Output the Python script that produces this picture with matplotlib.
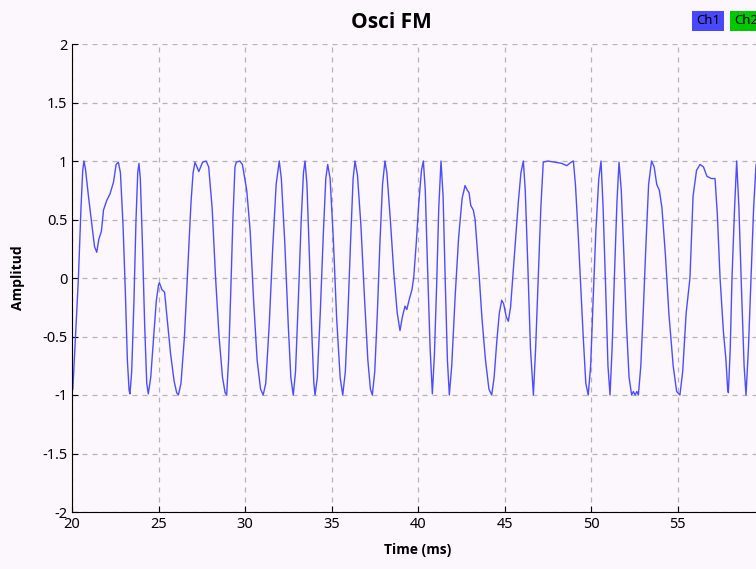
import matplotlib
matplotlib.use("Agg")
import matplotlib.pyplot as plt
from matplotlib.ticker import FuncFormatter

# samples (time in ms, amplitude)
t_ms = [
    20.05, 20.2, 20.37, 20.52, 20.62, 20.69,
    20.78, 20.95, 21.15, 21.3, 21.43,
    21.55, 21.7, 21.82, 22.0, 22.2, 22.4, 22.55, 22.68,
    22.8, 22.95, 23.08, 23.2, 23.3, 23.35,
    23.45, 23.58, 23.7, 23.8, 23.87,
    23.95, 24.07, 24.2, 24.32, 24.41,
    24.55, 24.7, 24.87, 25.0, 25.05, 25.2, 25.35,
    25.5, 25.7, 25.9, 26.05, 26.15,
    26.3, 26.5, 26.7, 26.88, 27.0, 27.11, 27.33, 27.55, 27.75, 27.9,
    28.1, 28.3, 28.5, 28.7, 28.85, 28.94,
    29.05, 29.18, 29.3, 29.42, 29.5, 29.7, 29.85,
    30.1, 30.3, 30.5, 30.7, 30.9, 31.05,
    31.2, 31.4, 31.6, 31.8, 31.98,
    32.1, 32.3, 32.5, 32.65, 32.79,
    32.92, 33.08, 33.25, 33.38, 33.47,
    33.58, 33.72, 33.87, 33.98, 34.05,
    34.18, 34.35, 34.52, 34.67, 34.78,
    34.92, 35.1, 35.3, 35.5, 35.65,
    35.8, 35.95, 36.1, 36.25, 36.36,
    36.5, 36.7, 36.9, 37.1, 37.25, 37.36,
    37.5, 37.65, 37.8, 37.95, 38.09,
    38.2, 38.4, 38.6, 38.8, 38.96, 39.1, 39.25, 39.35, 39.5, 39.65, 39.75,
    39.9, 40.05, 40.2, 40.31,
    40.42, 40.55, 40.7, 40.83,
    40.95, 41.08, 41.2, 41.33,
    41.45, 41.57, 41.7, 41.81,
    41.95, 42.15, 42.35, 42.55, 42.72, 42.85, 42.95, 43.05, 43.2, 43.3,
    43.5, 43.7, 43.9, 44.1, 44.26,
    44.4, 44.55, 44.7, 44.84, 44.95, 45.1, 45.22, 45.35,
    45.5, 45.65, 45.8, 45.95, 46.09,
    46.2, 46.35, 46.5, 46.67,
    46.8, 46.95, 47.1, 47.24, 47.5, 47.9, 48.3, 48.6, 48.85, 48.98,
    49.1, 49.25, 49.4, 49.55, 49.7, 49.84,
    49.98, 50.12, 50.28, 50.45, 50.58,
    50.7, 50.85, 50.98, 51.1,
    51.22, 51.35, 51.5, 51.62,
    51.75, 51.9, 52.05, 52.2, 52.35, 52.45, 52.55, 52.65, 52.74,
    52.88, 53.03, 53.18, 53.33, 53.5,
    53.65, 53.8, 53.95, 54.1, 54.3, 54.5, 54.75, 54.95, 55.14,
    55.3, 55.5, 55.72, 55.9, 56.1, 56.3, 56.5, 56.7, 56.95,
    57.17, 57.3, 57.46, 57.65, 57.8, 57.9, 57.94,
    58.05, 58.15, 58.3, 58.42,
    58.55, 58.7, 58.85, 58.96,
    59.1, 59.25, 59.4, 59.54, 59.7,
]
ch1 = [
    -0.95, -0.5, 0.0, 0.6, 0.92, 1.0,
    0.93, 0.7, 0.45, 0.27, 0.22,
    0.33, 0.4, 0.58, 0.66, 0.72, 0.82, 0.97, 0.99,
    0.9, 0.45, -0.1, -0.7, -0.96, -0.99,
    -0.8, -0.2, 0.5, 0.9, 0.98,
    0.85, 0.3, -0.4, -0.9, -0.99,
    -0.85, -0.55, -0.2, -0.06, -0.04, -0.1, -0.12,
    -0.35, -0.65, -0.88, -0.98, -1.0,
    -0.9, -0.5, 0.1, 0.65, 0.9, 0.99, 0.91, 0.99, 1.0, 0.95,
    0.6, 0.0, -0.5, -0.85, -0.98, -1.0,
    -0.7, -0.1, 0.5, 0.95, 0.99, 1.0, 0.97,
    0.75, 0.4, -0.2, -0.7, -0.95, -1.0,
    -0.9, -0.4, 0.25, 0.8, 1.0,
    0.85, 0.3, -0.4, -0.85, -1.0,
    -0.8, -0.2, 0.5, 0.9, 1.0,
    0.8, 0.2, -0.5, -0.9, -1.0,
    -0.85, -0.3, 0.35, 0.85, 0.97,
    0.85, 0.35, -0.35, -0.85, -1.0,
    -0.8, -0.3, 0.3, 0.85, 1.0,
    0.88, 0.45, -0.15, -0.7, -0.95, -1.0,
    -0.8, -0.3, 0.3, 0.8, 1.0,
    0.9, 0.5, 0.05, -0.3, -0.45, -0.33, -0.24, -0.27, -0.18, -0.1, 0.0,
    0.3, 0.65, 0.92, 1.0,
    0.75, 0.1, -0.6, -0.99,
    -0.65, -0.05, 0.6, 1.0,
    0.7, 0.0, -0.7, -1.0,
    -0.75, -0.15, 0.35, 0.68, 0.79, 0.75, 0.73, 0.62, 0.58, 0.5,
    0.1, -0.35, -0.7, -0.95, -1.0,
    -0.85, -0.55, -0.3, -0.19, -0.22, -0.33, -0.37, -0.25,
    0.05, 0.35, 0.65, 0.9, 1.0,
    0.75, 0.1, -0.6, -1.0,
    -0.6, 0.0, 0.6, 0.99, 1.0, 0.99, 0.98, 0.96, 0.99, 1.0,
    0.8, 0.4, -0.05, -0.5, -0.9, -1.0,
    -0.75, -0.2, 0.4, 0.85, 1.0,
    0.6, -0.1, -0.75, -1.0,
    -0.6, 0.0, 0.65, 0.99,
    0.75, 0.2, -0.4, -0.85, -1.0, -0.97, -1.0, -0.97, -1.0,
    -0.75, -0.25, 0.3, 0.8, 1.0,
    0.95, 0.8, 0.75, 0.6, 0.2, -0.3, -0.75, -0.97, -1.0,
    -0.8, -0.3, 0.0, 0.7, 0.92, 0.97, 0.95, 0.87, 0.85,
    0.85, 0.55, 0.0, -0.45, -0.7, -0.95, -0.98,
    -0.6, 0.0, 0.6, 1.0,
    0.6, -0.1, -0.75, -1.0,
    -0.6, 0.0, 0.6, 0.97, 0.97,
]
x_ticks = [20, 25, 30, 35, 40, 45, 50, 55]
y_ticks = [-2, -1.5, -1, -0.5, 0, 0.5, 1, 1.5, 2]

bg = "#fcf7fc"
bold_font = ["Open Sans", "DejaVu Sans"]
plt.rcParams["axes.unicode_minus"] = False
plt.rcParams["font.family"] = ["Noto Sans", "DejaVu Sans"]

fig = plt.figure(figsize=(7.56, 5.69), dpi=100, facecolor=bg)
ax = fig.add_axes([72 / 756, 57 / 569, 692 / 756, 468 / 569], facecolor=bg)

ax.plot(t_ms, ch1, color="#4d4dff", linewidth=1.0)
ax.set_xlim(20, 60)
ax.set_ylim(-2, 2)
ax.set_xticks(x_ticks)
ax.set_yticks(y_ticks)
ax.yaxis.set_major_formatter(FuncFormatter(lambda v, p: "%g" % v))
ax.tick_params(direction="in", length=4, labelsize=10.5, colors="black")
# grid line at 60 (no label there, it falls off the right edge)
ax.axvline(60, linestyle=(0, (4, 4)), color="#b4b4b4", linewidth=0.9)
ax.grid(True, linestyle=(0, (4, 4)), color="#b4b4b4", linewidth=0.9)
ax.spines["top"].set_visible(False)
ax.spines["right"].set_visible(False)
ax.set_xlabel("Time (ms)", fontsize=10, fontweight="bold", family=bold_font,
              labelpad=8)
ax.set_ylabel("Amplitud", fontsize=10, fontweight="bold", family=bold_font,
              labelpad=12)

fig.text(391 / 756, 1 - 22 / 569, "Osci FM", ha="center", va="center",
         fontsize=15, fontweight="bold", family=bold_font)
fig.text(708 / 756, 1 - 21 / 569, "Ch1", ha="center", va="center", fontsize=9.5,
         bbox=dict(boxstyle="square,pad=0.3", facecolor="#4848ff", edgecolor="none"))
fig.text(746 / 756, 1 - 21 / 569, "Ch2", ha="center", va="center", fontsize=9.5,
         bbox=dict(boxstyle="square,pad=0.3", facecolor="#00c800", edgecolor="none"))

fig.savefig("out.png", facecolor=bg)
plt.close(fig)
